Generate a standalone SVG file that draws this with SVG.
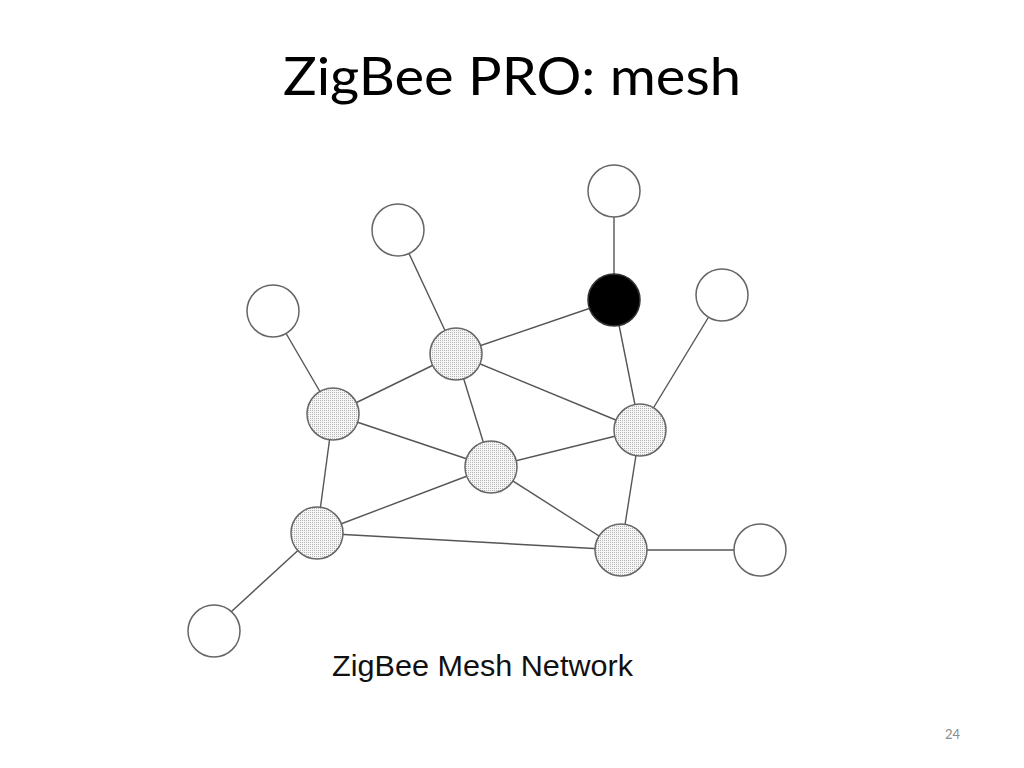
<svg xmlns="http://www.w3.org/2000/svg" width="1024" height="768" viewBox="0 0 1024 768">
  <defs>
    <pattern id="dots" width="2" height="2" patternUnits="userSpaceOnUse">
      <rect width="2" height="2" fill="#f6f6f6"/>
      <rect width="1" height="1" fill="#b4b4b4"/>
    </pattern>
  </defs>
  <style>
    .edge { stroke: #555; stroke-width: 1.4; fill: none; }
    .leaf { fill: #fff; stroke: #666; stroke-width: 1.5; }
    .router { fill: url(#dots); stroke: #666; stroke-width: 1.5; }
    .coord { fill: #000; stroke: #333; stroke-width: 1.5; }
    .title { font-family: Lato, "Open Sans", "Liberation Sans", sans-serif; font-size: 53px; fill: #000; }
    .caption { font-family: "Liberation Sans", Arial, sans-serif; font-size: 29px; fill: #111; }
    .pagenum { font-family: Lato, "Liberation Sans", sans-serif; font-size: 13px; fill: #8c8c8c; }
  </style>
  <rect width="1024" height="768" fill="#fff"/>
  <text class="title" x="283" y="95" textLength="458" lengthAdjust="spacingAndGlyphs">ZigBee PRO: mesh</text>

  <g id="connectors">
    <line class="edge" x1="614" y1="191" x2="614" y2="300"/>
    <line class="edge" x1="614" y1="300" x2="456" y2="354"/>
    <line class="edge" x1="614" y1="300" x2="640" y2="430"/>
    <line class="edge" x1="722" y1="295" x2="640" y2="430"/>
    <line class="edge" x1="398" y1="230" x2="456" y2="354"/>
    <line class="edge" x1="273" y1="311" x2="333" y2="414"/>
    <line class="edge" x1="456" y1="354" x2="333" y2="414"/>
    <line class="edge" x1="456" y1="354" x2="491" y2="467"/>
    <line class="edge" x1="456" y1="354" x2="640" y2="430"/>
    <line class="edge" x1="333" y1="414" x2="491" y2="467"/>
    <line class="edge" x1="333" y1="414" x2="317" y2="533"/>
    <line class="edge" x1="491" y1="467" x2="640" y2="430"/>
    <line class="edge" x1="491" y1="467" x2="317" y2="533"/>
    <line class="edge" x1="491" y1="467" x2="621" y2="550"/>
    <line class="edge" x1="640" y1="430" x2="621" y2="550"/>
    <line class="edge" x1="317" y1="533" x2="621" y2="550"/>
    <line class="edge" x1="621" y1="550" x2="760" y2="550"/>
    <line class="edge" x1="317" y1="533" x2="220" y2="622"/>
  </g>

  <g id="leaf-top"><circle class="leaf" cx="614" cy="191" r="26"/></g>
  <g id="coordinator"><circle class="coord" cx="614" cy="300" r="26"/></g>
  <g id="leaf-right-top"><circle class="leaf" cx="722" cy="295" r="26"/></g>
  <g id="leaf-upper-left"><circle class="leaf" cx="398" cy="230" r="26"/></g>
  <g id="leaf-left"><circle class="leaf" cx="273" cy="311" r="26"/></g>
  <g id="router-a"><circle class="router" cx="456" cy="354" r="26"/></g>
  <g id="router-b"><circle class="router" cx="333" cy="414" r="26"/></g>
  <g id="router-c"><circle class="router" cx="491" cy="467" r="26"/></g>
  <g id="router-d"><circle class="router" cx="640" cy="430" r="26"/></g>
  <g id="router-e"><circle class="router" cx="317" cy="533" r="26"/></g>
  <g id="router-f"><circle class="router" cx="621" cy="550" r="26"/></g>
  <g id="leaf-right"><circle class="leaf" cx="760" cy="550" r="26"/></g>
  <g id="leaf-bottom-left"><circle class="leaf" cx="214" cy="631" r="26"/></g>

  <text class="caption" x="332" y="676" textLength="301" lengthAdjust="spacingAndGlyphs">ZigBee Mesh Network</text>
  <text class="pagenum" x="945" y="739">24</text>
</svg>
